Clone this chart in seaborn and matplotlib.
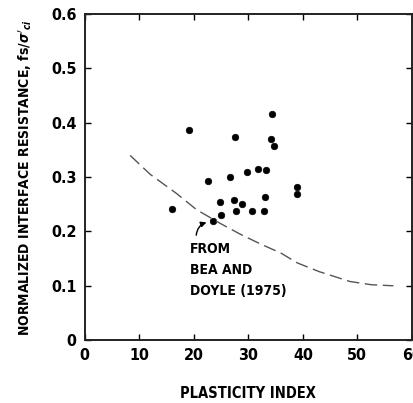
import numpy as np
import pandas as pd
import matplotlib
matplotlib.use("Agg")
import matplotlib.pyplot as plt
import seaborn as sns

# measured points (plasticity index, normalized interface resistance)
pi_vals = [19.1, 34.3, 27.5, 34.1, 34.7, 31.8, 33.3, 29.8, 26.6, 22.6, 39.0, 39.0,
           33.0, 24.8, 27.4, 28.9, 16.0, 27.7, 30.6, 32.8, 25.0, 23.5]
fs_vals = [0.387, 0.417, 0.374, 0.370, 0.358, 0.315, 0.313, 0.310, 0.300, 0.292, 0.282, 0.269,
           0.264, 0.254, 0.257, 0.250, 0.241, 0.238, 0.238, 0.238, 0.230, 0.219]

# Bea and Doyle (1975) curve
curve_pi = [8.3, 12.0, 16.8, 20.5, 24.8, 28.5, 32.0, 36.0, 39.0, 43.0, 48.6, 52.5, 56.6]
curve_fs = [0.340, 0.305, 0.270, 0.240, 0.215, 0.195, 0.178, 0.160, 0.142, 0.126, 0.108, 0.102, 0.100]

xticks = [0, 10, 20, 30, 40, 50, 60]
yticks = [0, 0.1, 0.2, 0.3, 0.4, 0.5, 0.6]
ytick_labels = ["0", "0.1", "0.2", "0.3", "0.4", "0.5", "0.6"]

sns.set_style("ticks")
plt.rcParams['font.family'] = ['DejaVu Sans']
plt.rcParams['font.stretch'] = 'condensed'
plt.rcParams['font.weight'] = 'bold'
plt.rcParams['text.color'] = 'black'
plt.rcParams['axes.labelcolor'] = 'black'
plt.rcParams['xtick.color'] = 'black'
plt.rcParams['ytick.color'] = 'black'

pts = pd.DataFrame({"pi": pi_vals, "fs": fs_vals})
crv = pd.DataFrame({"pi": curve_pi, "fs": curve_fs})

fig = plt.figure(figsize=(4.14, 4.03), dpi=100)
ax = fig.add_axes([0.205, 0.156, 0.79, 0.809])

sns.lineplot(data=crv, x="pi", y="fs", ax=ax, color="#555555", lw=1.0,
             dashes=False, linestyle=(0, (9, 4)))
sns.scatterplot(data=pts, x="pi", y="fs", ax=ax, color="black", s=22,
                edgecolor="black", linewidth=0.5)

ax.set_xlim(0, 60)
ax.set_ylim(0, 0.6)
ax.set_xticks(xticks)
ax.set_xticklabels([str(t) for t in xticks])
ax.set_yticks(yticks)
ax.set_yticklabels(ytick_labels)
ax.tick_params(direction="in", length=4, width=1, top=True, right=True,
               labelsize=11.5, pad=6)
for lab in ax.get_xticklabels() + ax.get_yticklabels():
    lab.set_fontweight("bold")
for sp in ax.spines.values():
    sp.set_linewidth(1.4)
    sp.set_color("#222222")

ax.set_xlabel("PLASTICITY INDEX", fontsize=10.5, fontweight="bold", labelpad=16)
ax.set_ylabel("NORMALIZED INTERFACE RESISTANCE, fs/$\\sigma'_{ci}$", fontsize=10,
              fontweight="bold", labelpad=12)

ax.text(19.3, 0.180, "FROM\nBEA AND\nDOYLE (1975)", fontsize=10, fontweight="bold",
        va="top", ha="left", linespacing=1.6)
ax.annotate("", xy=(22.8, 0.218), xytext=(20.4, 0.188),
            arrowprops=dict(arrowstyle="-|>", color="black", lw=1,
                            connectionstyle="arc3,rad=-0.4", mutation_scale=8))

fig.savefig("out.png", dpi=100)
